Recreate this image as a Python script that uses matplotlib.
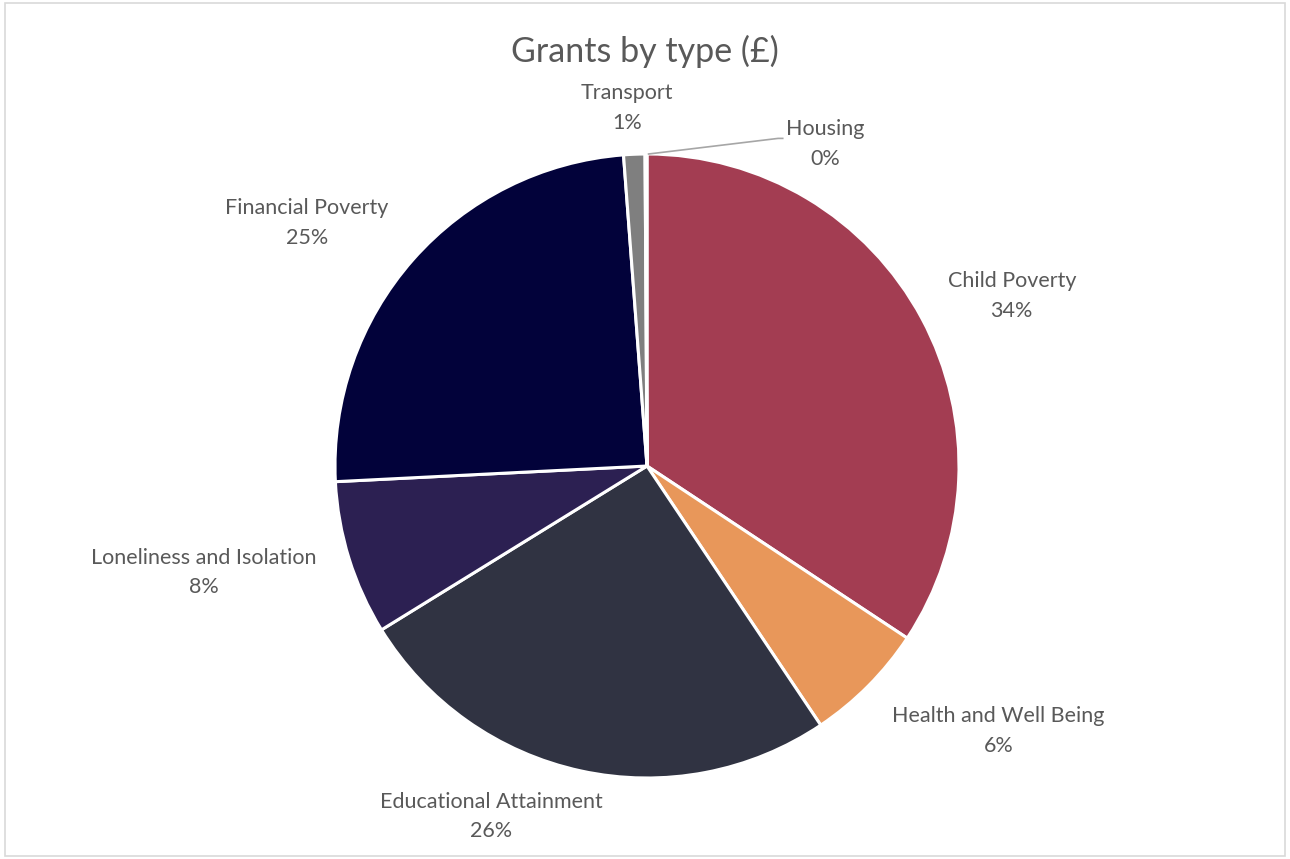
import numpy as np
import matplotlib.pyplot as plt
from matplotlib.patches import Rectangle

categories = ['Child Poverty', 'Health and Well Being', 'Educational Attainment',
              'Loneliness and Isolation', 'Financial Poverty', 'Transport', 'Housing']
values = [34.3, 6.3, 25.6, 8.0, 24.6, 1.1, 0.1]
colors = ['#A33D52', '#E8975A', '#303342', '#2C2052', '#02023A', '#7F7F7F', '#B0B0B0']

# label placement: (angle clockwise from 12 o'clock, distance in radii)
label_pos = [(65, 1.29), (127, 1.41), (204, 1.23), (256.5, 1.46),
             (305.5, 1.34), (356.8, 1.15), (29, 1.18)]

plt.rcParams['font.family'] = ['Lato', 'DejaVu Sans']

fig = plt.figure(figsize=(12.9, 8.59), dpi=100)
fig.patches.append(Rectangle((0.004, 0.003), 0.992, 0.993, transform=fig.transFigure,
                             fill=False, edgecolor='#D9D9D9', linewidth=1.2))

cx, cy = 647 / 1290, 1 - 466 / 859
w, h = 624 / 1290, 624 / 859
ax = fig.add_axes([cx - w / 2, cy - h / 2, w, h])

wedges, _ = ax.pie(values, colors=colors, startangle=90, counterclock=False,
                   wedgeprops=dict(edgecolor='white', linewidth=2.2))
ax.set_xlim(-1, 1)
ax.set_ylim(-1, 1)
ax.set_aspect('equal')
ax.axis('off')

total = sum(values)
for name, v, (ang, r) in zip(categories, values, label_pos):
    a = np.deg2rad(ang)
    x, y = r * np.sin(a), r * np.cos(a)
    ax.text(x, y, f'{name}\n{round(v / total * 100)}%', ha='center', va='center',
            fontsize=15.5, color='#595959', linespacing=1.6, clip_on=False)

# leader line for the Housing slice
ax.plot([0.005, 0.42, 0.435], [1.0, 1.05, 1.05], color='#A6A6A6', lw=1.2, clip_on=False)

fig.text(0.5, 0.94, 'Grants by type (£)', ha='center', va='center',
         fontsize=24.5, color='#595959')

fig.savefig('out.png', dpi=100)
